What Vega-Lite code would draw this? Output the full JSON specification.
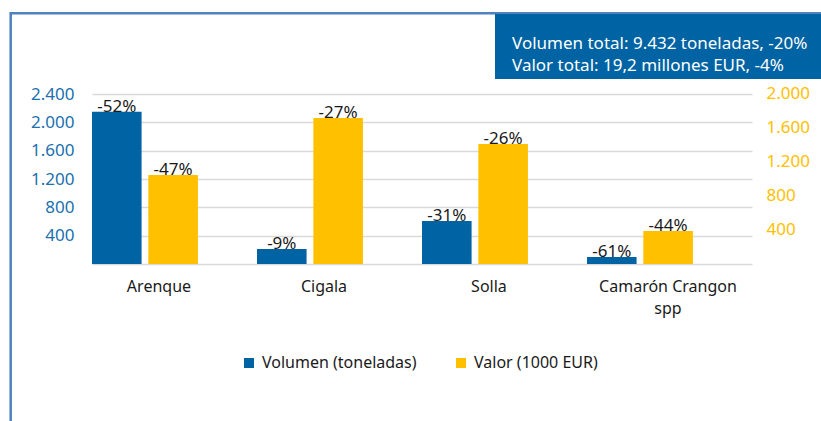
{
  "$schema": "https://vega.github.io/schema/vega-lite/v6.json",
  "width": 660,
  "height": 250,
  "autosize": "none",
  "padding": {"left": 92, "top": 14, "right": 69, "bottom": 157},
  "background": "white",
  "config": {
    "font": "Noto Sans",
    "view": {"stroke": null},
    "axis": {"labelFont": "Noto Sans"},
    "legend": {"labelFont": "Noto Sans"}
  },
  "layer": [
    {
      "data": {
        "values": [
          {"species": "Arenque", "series": "Volumen (toneladas)", "value": 2150, "pct": "-52%"},
          {"species": "Cigala", "series": "Volumen (toneladas)", "value": 212, "pct": "-9%"},
          {"species": "Solla", "series": "Volumen (toneladas)", "value": 607, "pct": "-31%"},
          {"species": "Camarón Crangon spp", "series": "Volumen (toneladas)", "value": 99, "pct": "-61%"},
          {"species": "Arenque", "series": "Valor (1000 EUR)", "value": 1047, "pct": "-47%"},
          {"species": "Cigala", "series": "Valor (1000 EUR)", "value": 1718, "pct": "-27%"},
          {"species": "Solla", "series": "Valor (1000 EUR)", "value": 1412, "pct": "-26%"},
          {"species": "Camarón Crangon spp", "series": "Valor (1000 EUR)", "value": 388, "pct": "-44%"}
        ]
      },
      "encoding": {
        "x": {
          "field": "species",
          "type": "nominal",
          "sort": ["Arenque", "Cigala", "Solla", "Camarón Crangon spp"],
          "scale": {"paddingInner": 0.358, "paddingOuter": 0.179, "align": 0},
          "axis": {
            "title": null,
            "domain": false,
            "ticks": false,
            "labelAngle": 0,
            "labelFontSize": 16,
            "labelColor": "#1a1a1a",
            "labelPadding": 14,
            "labelOffset": {"condition": {"test": "datum.value == 'Camarón Crangon spp'", "value": 28}, "value": 14},
            "labelLineHeight": 22,
            "labelBaseline": "top",
            "labelExpr": "datum.label == 'Camarón Crangon spp' ? ['Camarón Crangon', 'spp'] : datum.label"
          }
        },
        "xOffset": {
          "field": "series",
          "type": "nominal",
          "sort": ["Volumen (toneladas)", "Valor (1000 EUR)"],
          "scale": {"paddingInner": 0.12}
        }
      },
      "layer": [
        {
          "transform": [{"filter": "datum.series == 'Volumen (toneladas)'"}],
          "encoding": {
            "y": {
              "field": "value",
              "type": "quantitative",
              "scale": {"domain": [0, 3530], "nice": false},
              "axis": {
                "orient": "left",
                "title": null,
                "values": [0, 400, 800, 1200, 1600, 2000, 2400],
                "labelExpr": "datum.value == 0 ? '' : replace(format(datum.value, ','), ',', '.')",
                "domain": false,
                "ticks": false,
                "labelFontSize": 17,
                "labelColor": "#2170AE",
                "labelPadding": 18,
                "grid": true,
                "gridColor": "#D9D9D9",
                "gridWidth": 1.5
              }
            }
          },
          "layer": [
            {
              "mark": {"type": "bar"},
              "encoding": {
                "color": {
                  "field": "series",
                  "type": "nominal",
                  "scale": {"domain": ["Volumen (toneladas)", "Valor (1000 EUR)"], "range": ["#0063A3", "#FFC000"]},
                  "legend": {
                    "title": null,
                    "orient": "none",
                    "direction": "horizontal",
                    "legendX": 149,
                    "legendY": 341,
                    "symbolType": "square",
                    "symbolSize": 100,
                    "symbolStrokeWidth": 0,
                    "labelFontSize": 16,
                    "labelColor": "#1a1a1a",
                    "labelOffset": 5,
                    "columnPadding": 36
                  }
                }
              }
            },
            {
              "mark": {"type": "text", "baseline": "alphabetic", "dy": 0, "fontSize": 17, "color": "#1a1a1a"},
              "encoding": {"text": {"field": "pct"}}
            }
          ]
        },
        {
          "transform": [{"filter": "datum.series == 'Valor (1000 EUR)'"}],
          "encoding": {
            "y": {
              "field": "value",
              "type": "quantitative",
              "scale": {"domain": [0, 2941], "nice": false},
              "axis": {
                "orient": "right",
                "title": null,
                "values": [400, 800, 1200, 1600, 2000],
                "labelExpr": "replace(format(datum.value, ','), ',', '.')",
                "domain": false,
                "ticks": false,
                "grid": false,
                "labelFontSize": 17,
                "labelColor": "#FFC000",
                "labelPadding": 14
              }
            }
          },
          "layer": [
            {
              "mark": {"type": "bar"},
              "encoding": {
                "color": {"field": "series", "type": "nominal"}
              }
            },
            {
              "mark": {"type": "text", "baseline": "alphabetic", "dy": 0, "fontSize": 17, "color": "#1a1a1a"},
              "encoding": {"text": {"field": "pct"}}
            }
          ]
        }
      ],
      "resolve": {"scale": {"y": "independent"}}
    },
    {
      "data": {
        "values": [
          {"note": ["Volumen total: 9.432 toneladas, -20%", "Valor total: 19,2 millones EUR, -4%"]}
        ]
      },
      "layer": [
        {
          "mark": {"type": "rect", "fill": null, "fillOpacity": 0, "stroke": "#4F81BD", "strokeWidth": 2.5},
          "encoding": {
            "x": {"datum": -0.1232, "type": "quantitative", "scale": {"domain": [0, 1], "nice": false, "zero": false}, "axis": null},
            "x2": {"datum": 1.3},
            "y": {"datum": 1.0028, "type": "quantitative", "scale": {"domain": [0, 1], "nice": false, "zero": false}, "axis": null},
            "y2": {"datum": -1}
          }
        },
        {
          "mark": {"type": "rect", "fill": "#0063A3"},
          "encoding": {
            "x": {"datum": 0.6106, "type": "quantitative"},
            "x2": {"datum": 1.2},
            "y": {"datum": 1.0, "type": "quantitative"},
            "y2": {"datum": 0.74}
          }
        },
        {
          "mark": {"type": "text", "align": "left", "baseline": "middle", "fontSize": 17, "lineHeight": 22, "color": "white"},
          "encoding": {
            "x": {"datum": 0.6364, "type": "quantitative"},
            "y": {"datum": 0.88, "type": "quantitative"},
            "text": {"field": "note"}
          }
        }
      ]
    }
  ],
  "resolve": {"scale": {"x": "independent", "y": "independent"}}
}
